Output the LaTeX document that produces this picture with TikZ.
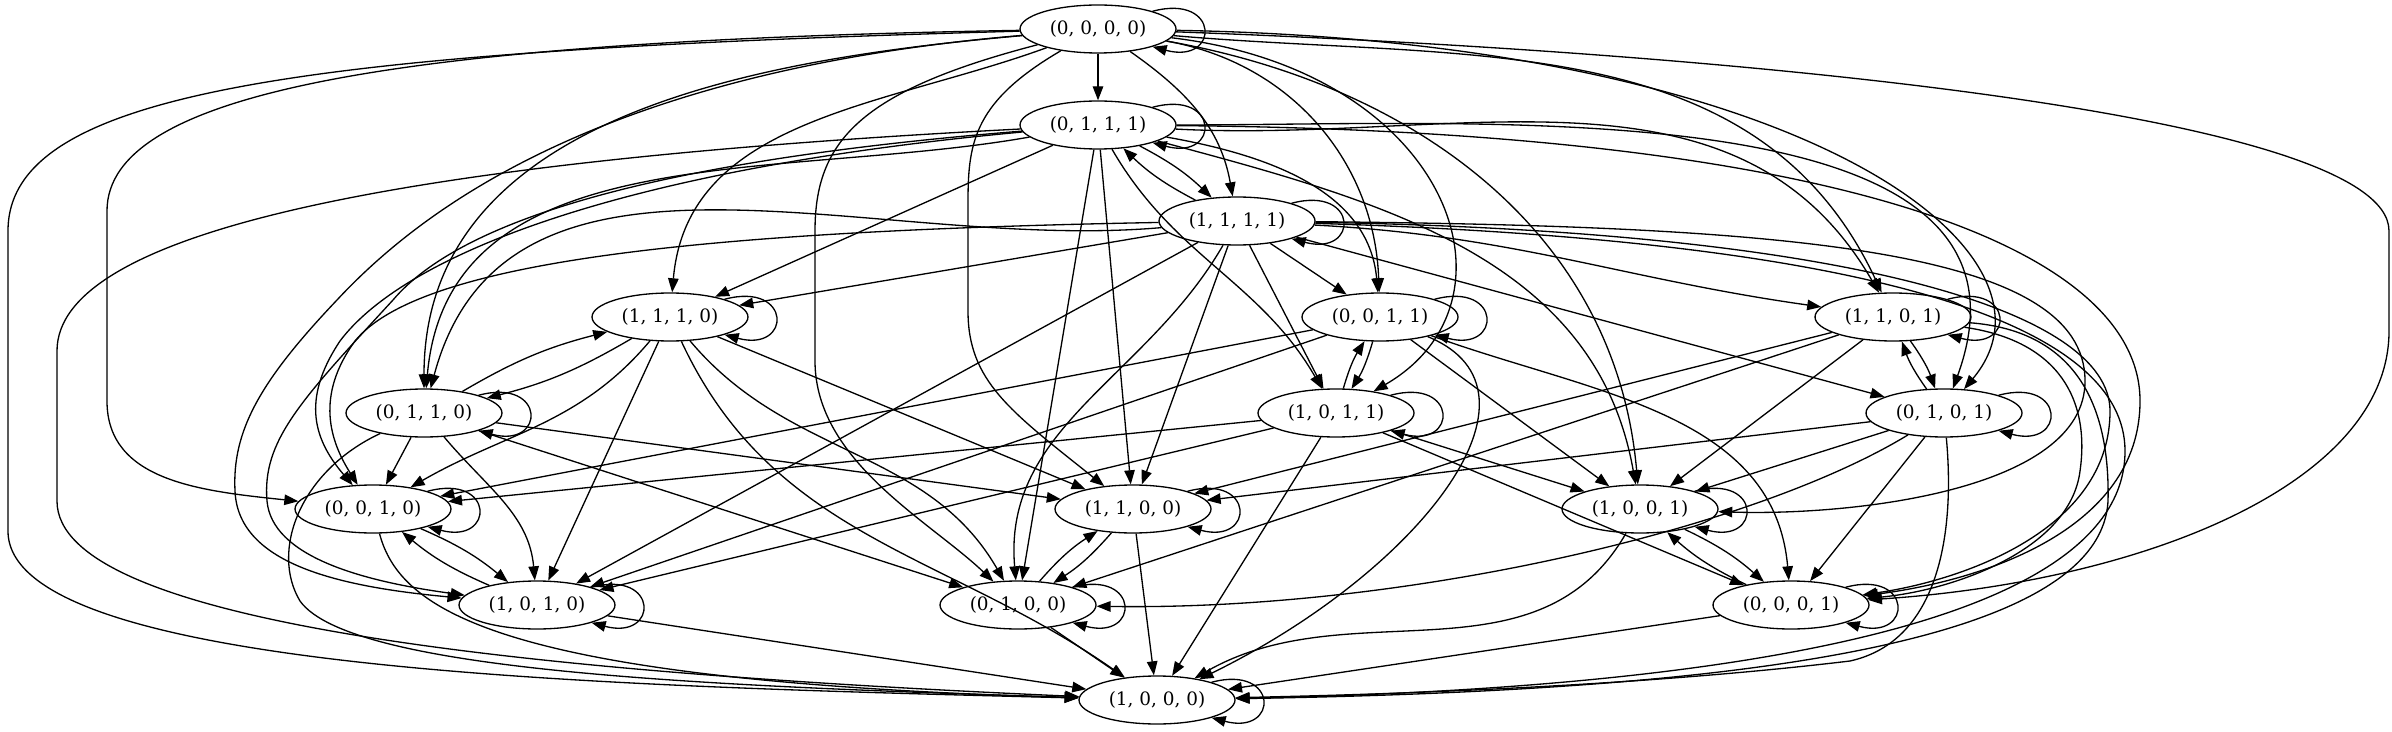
\documentclass[tikz,border=0pt]{standalone}
\usepackage{fontspec}
\setmainfont{DejaVu Serif}
\usetikzlibrary{arrows.meta,shapes.geometric}

\tikzset{
  state/.style={draw, ellipse, line width=0.75pt, minimum width=3.12cm,
    minimum height=0.96cm, inner sep=0pt, font=\fontsize{10.5}{12}\selectfont},
  tr/.style={-{Triangle[length=8pt,width=6pt]}, line width=0.75pt},
}

\begin{document}
\begin{tikzpicture}[x=0.02cm,y=0.02cm]
\useasboundingbox (0,0) rectangle (2392,731);
% states, one rank per row
\node[state] (s0000) at (1098,702) {(0, 0, 0, 0)};
\node[state] (s0111) at (1098,606) {(0, 1, 1, 1)};
\node[state] (s1111) at (1237,510) {(1, 1, 1, 1)};
\node[state] (s1110) at (670,414) {(1, 1, 1, 0)};
\node[state] (s0011) at (1380,414) {(0, 0, 1, 1)};
\node[state] (s1101) at (1893,414) {(1, 1, 0, 1)};
\node[state] (s0110) at (424,318) {(0, 1, 1, 0)};
\node[state] (s1011) at (1336,318) {(1, 0, 1, 1)};
\node[state] (s0101) at (1944,318) {(0, 1, 0, 1)};
\node[state] (s0010) at (373,222) {(0, 0, 1, 0)};
\node[state] (s1100) at (1133,222) {(1, 1, 0, 0)};
\node[state] (s1001) at (1640,222) {(1, 0, 0, 1)};
\node[state] (s1010) at (537,126) {(1, 0, 1, 0)};
\node[state] (s0100) at (1018,126) {(0, 1, 0, 0)};
\node[state] (s0001) at (1791,126) {(0, 0, 0, 1)};
\node[state] (s1000) at (1157,31) {(1, 0, 0, 0)};

% self loops
\foreach \s in {s0000,s0111,s1111,s1110,s0011,s1101,s0110,s1011,s0101,s0010,s1100,s1001,s1010,s0100,s0001,s1000}
  \draw[tr] (\s.18) .. controls +(15:70) and +(-15:70) .. (\s.-18);

% from (0,0,0,0)
\draw[tr] (s0000) -- (s0111);
\draw[tr] (s0000) to[out=-35,in=100] (s1111);
\draw[tr] (s0000) to[out=-10,in=92] (s0011);
\draw[tr] (s0000) to[out=-5,in=115] (s1101);
\draw[tr] (s0000) .. controls (1800,690) and (2080,480) .. (s0101);
\draw[tr] (s0000) .. controls (1450,660) and (1530,430) .. (s1011);
\draw[tr] (s0000) to[out=-10,in=95] (s1001);
\draw[tr] (s0000) .. controls (1700,680) and (2389,620) .. (2389,500) -- (2389,400)
  .. controls (2389,250) and (2150,150) .. (s0001);
\draw[tr] (s0000) to[out=-160,in=85] (s1110);
\draw[tr] (s0000) to[out=185,in=90] (s0110);
\draw[tr] (s0000) .. controls (400,690) and (107,640) .. (107,520) -- (107,330)
  .. controls (107,250) and (200,240) .. (s0010);
\draw[tr] (s0000) .. controls (975,630) and (968,590) .. (968,530) -- (968,420)
  .. controls (968,350) and (1010,320) .. (s1100);
\draw[tr] (s0000) .. controls (860,640) and (815,590) .. (815,500) -- (815,370)
  .. controls (815,270) and (930,210) .. (s0100);
\draw[tr] (s0000) .. controls (600,660) and (420,520) .. (337,431)
  .. controls (260,350) and (232,300) .. (235,240)
  .. controls (238,170) and (330,145) .. (s1010);
\draw[tr] (s0000) .. controls (300,680) and (8,640) .. (8,500) -- (8,200)
  .. controls (8,60) and (600,45) .. (s1000);

% from (0,1,1,1)
\draw[tr] (s0111) to[bend left=8] (s1111);
\draw[tr] (s0111) -- (s1110);
\draw[tr] (s0111) to[out=-10,in=95] (s0011);
\draw[tr] (s0111) to[out=-3,in=120] (s1101);
\draw[tr] (s0111) to[out=0,in=70] (s0101);
\draw[tr] (s0111) to[out=-60,in=120] (s1011);
\draw[tr] (s0111) -- (s1100);
\draw[tr] (s0111) -- (s0100);
\draw[tr] (s0111) to[out=190,in=85] (s0110);
\draw[tr] (s0111) .. controls (600,560) and (400,470) .. (340,390)
  .. controls (300,330) and (315,290) .. (s0010);
\draw[tr] (s0111) .. controls (650,570) and (460,510) .. (393,431)
  .. controls (300,330) and (262,290) .. (267,230)
  .. controls (272,175) and (360,150) .. (s1010);
\draw[tr] (s0111) to[out=-15,in=100] (s1001);
\draw[tr] (s0111) .. controls (1850,600) and (2140,480) .. (2140,330)
  .. controls (2140,200) and (1980,150) .. (s0001);
\draw[tr] (s0111) .. controls (400,570) and (57,500) .. (57,380) -- (57,230)
  .. controls (57,110) and (500,60) .. (s1000);

% from (1,1,1,1)
\draw[tr] (s1111) to[bend left=8] (s0111);
\draw[tr] (s1111) -- (s1110);
\draw[tr] (s1111) -- (s0011);
\draw[tr] (s1111) -- (s1011);
\draw[tr] (s1111) -- (s1100);
\draw[tr] (s1111) to[out=-120,in=95] (s0100);
\draw[tr] (s1111) to[out=-3,in=172] (s1101);
\draw[tr] (s1111) -- (s0101);
\draw[tr] (s1111) .. controls (1800,505) and (2085,480) .. (2085,350)
  .. controls (2085,240) and (1850,215) .. (s1001);
\draw[tr] (s1111) .. controls (1850,500) and (2110,420) .. (2110,320)
  .. controls (2110,200) and (1960,150) .. (s0001);
\draw[tr] (s1111) .. controls (1900,490) and (2125,400) .. (2125,280)
  .. controls (2125,80) and (1600,40) .. (s1000);
\draw[tr] (s1111) to[out=185,in=75] (s0110);
\draw[tr] (s1111) .. controls (700,500) and (420,470) .. (355,390)
  .. controls (315,335) and (330,290) .. (s0010);
\draw[tr] (s1111) -- (s1010);

% from (1,1,1,0)
\draw[tr] (s1110) to[bend left=8] (s0110);
\draw[tr] (s1110) -- (s1100);
\draw[tr] (s1110) to[out=-50,in=120] (s0100);
\draw[tr] (s1110) -- (s1010);
\draw[tr] (s1110) to[out=-130,in=30] (s0010);
\draw[tr] (s1110) to[out=-65,in=145] (s1000);

% from (0,1,1,0)
\draw[tr] (s0110) to[bend left=8] (s1110);
\draw[tr] (s0110) -- (s0010);
\draw[tr] (s0110) to[out=-50,in=95] (s1010);
\draw[tr] (s0110) -- (s1100);
\draw[tr] (s0110) -- (s0100);
\draw[tr] (s0110) .. controls (300,260) and (270,180) .. (300,130)
  .. controls (350,60) and (700,45) .. (s1000);

% from (0,0,1,1)
\draw[tr] (s0011) to[bend left=8] (s1011);
\draw[tr] (s0011) -- (s0010);
\draw[tr] (s0011) -- (s1010);
\draw[tr] (s0011) to[out=-20,in=95] (s0001);
\draw[tr] (s0011) -- (s1001);
\draw[tr] (s0011) .. controls (1560,340) and (1420,160) .. (s1000);

% from (1,0,1,1)
\draw[tr] (s1011) to[bend left=8] (s0011);
\draw[tr] (s1011) -- (s0010);
\draw[tr] (s1011) -- (s1010);
\draw[tr] (s1011) -- (s0001);
\draw[tr] (s1011) -- (s1001);
\draw[tr] (s1011) -- (s1000);

% from (1,1,0,1)
\draw[tr] (s1101) to[bend left=8] (s0101);
\draw[tr] (s1101) -- (s1100);
\draw[tr] (s1101) -- (s0100);
\draw[tr] (s1101) -- (s1001);
\draw[tr] (s1101) .. controls (2060,390) and (2090,330) .. (2080,260)
  .. controls (2070,180) and (1950,140) .. (s0001);
\draw[tr] (s1101) .. controls (2080,400) and (2110,320) .. (2108,230)
  .. controls (2100,80) and (1700,40) .. (s1000);

% from (0,1,0,1)
\draw[tr] (s0101) to[bend left=8] (s1101);
\draw[tr] (s0101) -- (s1100);
\draw[tr] (s0101) .. controls (1750,200) and (1400,120) .. (s0100);
\draw[tr] (s0101) -- (s1001);
\draw[tr] (s0101) -- (s0001);
\draw[tr] (s0101) .. controls (1955,200) and (1940,90) .. (1850,70)
  .. controls (1600,40) and (1300,35) .. (s1000);

% bottom ranks
\draw[tr] (s0010) to[bend left=8] (s1010);
\draw[tr] (s0010) .. controls (400,120) and (500,50) .. (s1000);
\draw[tr] (s1010) to[bend left=8] (s0010);
\draw[tr] (s1010) -- (s1000);
\draw[tr] (s0100) to[bend left=8] (s1100);
\draw[tr] (s0100) -- (s1000);
\draw[tr] (s1100) to[bend left=8] (s0100);
\draw[tr] (s1100) -- (s1000);
\draw[tr] (s0001) to[bend left=8] (s1001);
\draw[tr] (s0001) -- (s1000);
\draw[tr] (s1001) to[bend left=8] (s0001);
\draw[tr] (s1001) to[out=-120,in=30] (s1000);
\end{tikzpicture}
\end{document}
